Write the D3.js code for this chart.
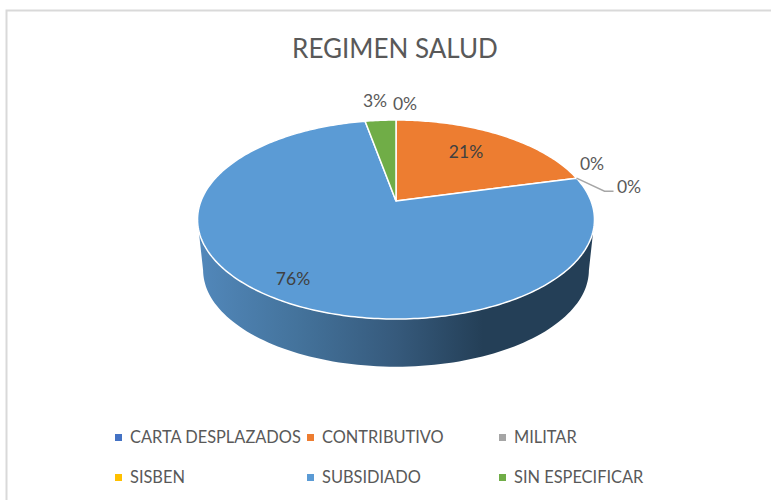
<!DOCTYPE html>
<html><head><meta charset="utf-8">
<script src="https://cdn.jsdelivr.net/npm/d3@7"></script>
<style>html,body{margin:0;background:#fff}svg{display:block}text{font-family:Lato,"Open Sans",sans-serif;fill:#595959}</style>
</head><body><svg id="c" width="771" height="500"></svg>
<script>
const categories=["CARTA DESPLAZADOS","CONTRIBUTIVO","MILITAR","SISBEN","SUBSIDIADO","SIN ESPECIFICAR"];
const values=[0,21,0,0,76,3];
const colors=["#4472c4","#ed7d31","#a5a5a5","#ffc000","#5b9bd5","#70ad47"];
const title="REGIMEN SALUD";

const svg=d3.select("#c");
// chart frame
svg.append("path").attr("d","M6.5,500V10.5H771").attr("fill","none").attr("stroke","#d9d9d9").attr("stroke-width",2);

// perspective projection of the pie disc
const cx=396,cy=201,k=-0.186,a=96.06,b=195;
const project=(ang,dy=0,s=1)=>{const u=Math.sin(ang),v=-Math.cos(ang),w=1+k*v;
  return [cx+s*b*u/w, cy+dy+s*a*v/w];};
const arcPts=(a0,a1,dy=0,s=1)=>d3.range(0,101).map(i=>project(a0+(a1-a0)*i/100,dy,s));
const line=d3.line();

const pie=d3.pie().sort(null).value(d=>d)(values);
const depth=51, bottomScale=0.972;

// side wall of the large slice
const defs=svg.append("defs");
const grad=defs.append("linearGradient").attr("id","wall").attr("gradientUnits","userSpaceOnUse").attr("x1",197).attr("x2",594).attr("y1",0).attr("y2",0);
[[0,"#5288bb"],[0.25,"#44739c"],[0.5,"#365a7c"],[0.72,"#243f57"],[1,"#243f57"]].forEach(([o,c])=>grad.append("stop").attr("offset",o).attr("stop-color",c));
const wa0=Math.PI*0.56,wa1=Math.PI*1.44;
const wallPts=arcPts(wa0,wa1).concat(arcPts(wa1,wa0,depth,bottomScale));
svg.append("path").attr("d",line(wallPts)+"Z").attr("fill","url(#wall)");

// top surface
svg.selectAll("path.slice").data(pie.filter(d=>d.endAngle>d.startAngle)).join("path").attr("class","slice")
  .attr("d",d=>{const n=Math.max(2,Math.ceil((d.endAngle-d.startAngle)*60));
    const pts=[[cx,cy]];for(let i=0;i<=n;i++)pts.push(project(d.startAngle+(d.endAngle-d.startAngle)*i/n));
    return line(pts)+"Z";})
  .attr("fill",d=>colors[d.index]).attr("stroke","#fff").attr("stroke-width",1.5).attr("stroke-linejoin","round");

// leader line for the small slice
const lp=project(pie[3].startAngle);
svg.append("path").attr("d",line([lp,[lp[0]+28,lp[1]+13],[lp[0]+37,lp[1]+13]])).attr("fill","none").attr("stroke","#a6a6a6").attr("stroke-width",1.5);

// data labels
const labelPos=[[405,104],[466,152.5],[592,164.5],[629,187.5],[293,279.5],[375,101]];
svg.selectAll("text.lab").data(pie).join("text").attr("class","lab")
  .attr("x",d=>labelPos[d.index][0]).attr("y",d=>labelPos[d.index][1]+1.5)
  .attr("text-anchor","middle").attr("dominant-baseline","middle").attr("font-size",17.5)
  .style("fill",d=>(d.index==1||d.index==4)?"#404040":"#595959")
  .text(d=>Math.round(d.value)+"%");

// title
svg.append("text").attr("x",395).attr("y",51.5).attr("text-anchor","middle").attr("dominant-baseline","middle").attr("font-size",26).text(title);

// legend
const lx=d3.scaleOrdinal([0,1,2],[130,322,514]);
const ly=d3.scaleOrdinal([0,1],[438,478]);
const lg=svg.selectAll("g.leg").data(categories).join("g").attr("class","leg")
  .attr("transform",(d,i)=>`translate(${lx(i%3)},${ly(Math.floor(i/3))})`);
lg.append("rect").attr("x",-15).attr("y",-4).attr("width",7).attr("height",7).attr("fill",(d,i)=>colors[i]);
lg.append("text").attr("y",0.5).attr("dominant-baseline","middle").attr("font-size",16.4).text(d=>d);
</script></body></html>
